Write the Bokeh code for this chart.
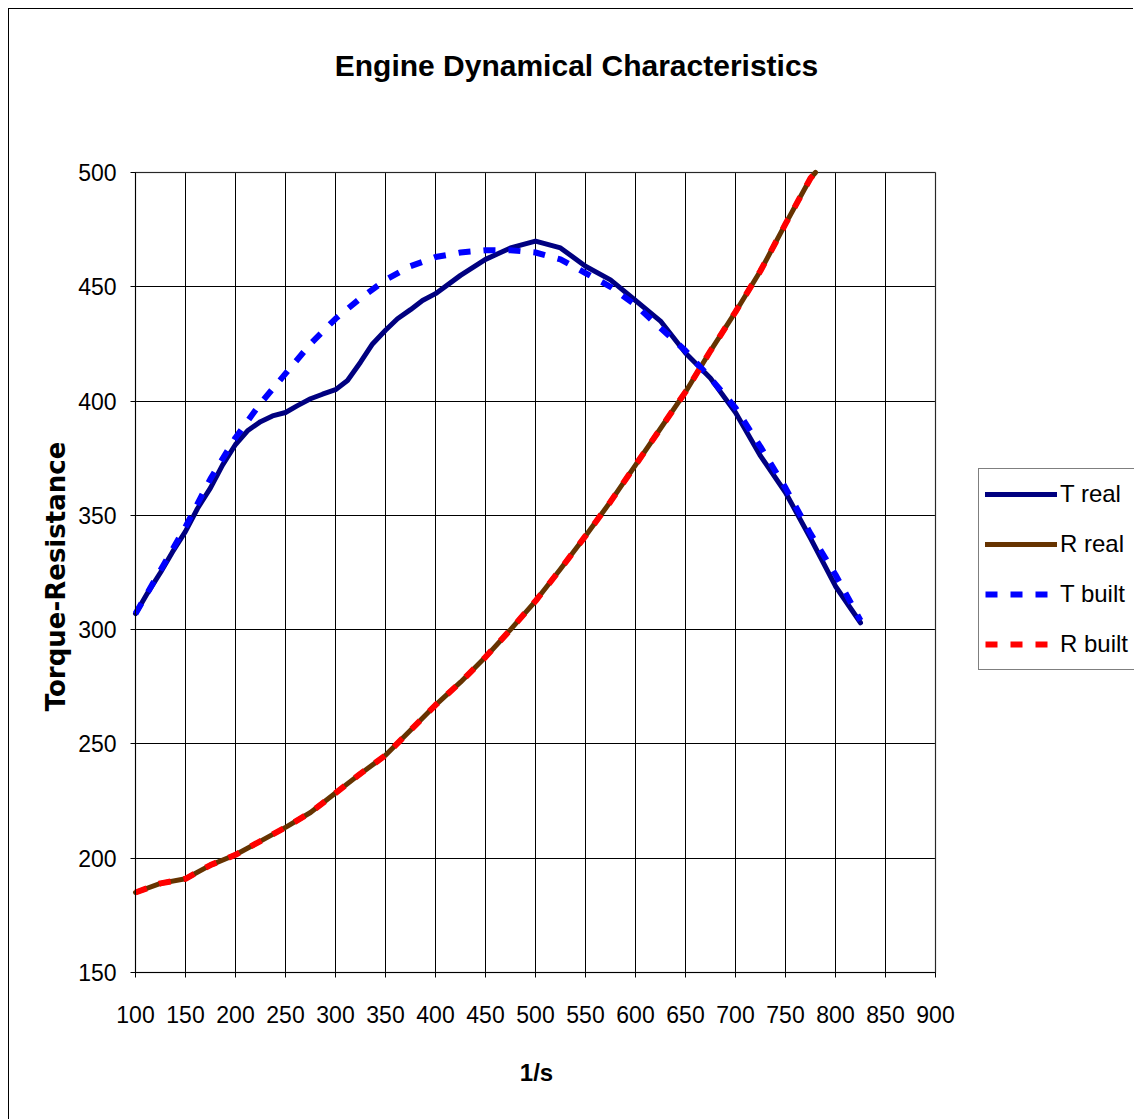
import math
from bokeh.plotting import figure
from bokeh.models import Legend, LegendItem, FixedTicker, Range1d, Label, BoxAnnotation
from bokeh.embed import file_html
from bokeh.resources import INLINE

# ---- data ----
t_real_x = [100, 112, 125, 137, 150, 162, 175, 187, 200, 212, 225, 237, 250, 262, 275, 287,
            300, 312, 325, 337, 350, 362, 375, 387, 400, 425, 450, 475, 500, 525, 550, 575,
            600, 625, 650, 675, 700, 725, 750, 775, 800, 825]
t_real_y = [307, 316, 325, 334, 343, 353, 362, 372, 381, 387, 391, 393.5, 395, 398, 401, 403,
            405, 409, 417, 425, 431, 436, 440, 444, 447, 455, 462, 467, 470, 467, 459, 453,
            444, 435, 421, 410, 395, 376, 360, 340, 319, 303]

r_real_x = [100, 125, 150, 175, 200, 225, 250, 275, 300, 325, 350, 375, 400, 425, 450,
            475, 500, 525, 550, 575, 600, 625, 650, 675, 700, 725, 750, 775, 780]
r_real_y = [185, 189, 191, 197, 201.5, 207.5, 213.5, 220, 228.5, 237, 245, 256, 267, 277, 288,
            300, 312.5, 326.5, 341, 356, 372, 388, 404, 422, 439, 457, 477.5, 497.5, 500]

t_built_x = [100, 125, 150, 175, 200, 225, 250, 275, 300, 325, 350, 375, 400, 425, 450,
             475, 500, 525, 550, 575, 600, 625, 650, 675, 700, 725, 750, 775, 800, 825]
t_built_y = [307, 326, 345, 366, 384, 399, 412, 425, 436, 445, 453, 459, 463, 465, 466,
             466, 465, 462, 456, 450, 442, 432, 422, 410, 397, 380, 362, 342, 324, 304]

r_built_x = [100, 125, 150, 175, 200, 225, 250, 275, 300, 325, 350, 375, 400, 425, 450,
             475, 500, 525, 550, 575, 600, 625, 650, 675, 700, 725, 750, 775, 780]
r_built_y = [185, 189, 191, 197, 201.5, 207.5, 213.5, 220, 228.5, 237, 245, 256, 267, 277, 288,
             300, 312.5, 326.5, 341, 356, 372, 388, 404, 422, 439, 457, 477.5, 497.5, 500]

x_ticks = [100, 150, 200, 250, 300, 350, 400, 450, 500, 550, 600, 650, 700, 750, 800, 850, 900]
y_ticks = [150, 200, 250, 300, 350, 400, 450, 500]
x_min, x_max = 100, 900
y_min, y_max = 150, 500

title_text = "Engine Dynamical Characteristics"
x_label = "1/s"
y_label = "Torque-Resistance"
series_names = ["T real", "R real", "T built", "R built"]

FONT = "Liberation Sans"

# The frame spans the whole canvas so that title, axis titles and the legend
# (all outside the plot area in the reference) are not clipped; the axes sit at
# fixed locations and axes/grids are bounded to the data area (1 px per x unit,
# 800 px for 350 y units).
p = figure(width=1125, height=1111, title=None,
           x_range=Range1d(-26, 1099), y_range=Range1d(85.25, 571.3125),
           output_backend="svg", toolbar_location=None, min_border=0)
p.styles = {"margin-left": "8px", "margin-top": "8px",
            "border-left": "1px solid black", "border-top": "1px solid black"}
p.background_fill_color = "white"
p.border_fill_color = "white"
p.outline_line_color = None

p.xaxis.fixed_location = y_min
p.yaxis.fixed_location = x_min
p.xaxis.ticker = FixedTicker(ticks=x_ticks)
p.yaxis.ticker = FixedTicker(ticks=y_ticks)
p.xaxis.bounds = (x_min, x_max)
p.yaxis.bounds = (y_min, y_max)
p.xgrid.ticker = FixedTicker(ticks=x_ticks)
p.ygrid.ticker = FixedTicker(ticks=y_ticks)
p.xgrid.bounds = (x_min, x_max)
p.ygrid.bounds = (y_min, y_max)
p.xgrid.cross_bounds = (y_min, y_max)
p.ygrid.cross_bounds = (x_min, x_max)
for g in (p.xgrid, p.ygrid):
    g.grid_line_color = "black"
    g.grid_line_width = 1

plot_area = BoxAnnotation(left=x_min, right=x_max, bottom=y_min, top=y_max,
                          fill_alpha=0, line_color="#808080", line_width=2, level="underlay")
p.add_layout(plot_area)

for ax in (p.xaxis, p.yaxis):
    ax.axis_line_color = "black"
    ax.major_tick_line_color = "black"
    ax.major_tick_out = 5
    ax.major_tick_in = 0
    ax.minor_tick_line_color = None
    ax.major_label_text_font = FONT
    ax.major_label_text_font_size = "23px"
    ax.major_label_text_color = "black"
p.xaxis.major_label_standoff = 28
p.yaxis.major_label_standoff = 14

r1 = p.line(t_real_x, t_real_y, line_color="#000080", line_width=5, line_join="round", line_cap="round")
r2 = p.line(r_real_x, r_real_y, line_color="#663300", line_width=5, line_join="round", line_cap="round")
r3 = p.line(t_built_x, t_built_y, line_color="#0000FF", line_width=6, line_dash="12 13")
r4 = p.line(r_built_x, r_built_y, line_color="#FF0000", line_width=6, line_dash="12 13")

legend = Legend(items=[LegendItem(label=series_names[0], renderers=[r1]),
                       LegendItem(label=series_names[1], renderers=[r2]),
                       LegendItem(label=series_names[2], renderers=[r3]),
                       LegendItem(label=series_names[3], renderers=[r4])],
                location=(969, 450))
legend.border_line_color = "black"
legend.border_line_width = 1
legend.background_fill_color = "white"
legend.background_fill_alpha = 1
legend.label_text_font = FONT
legend.label_text_font_size = "24px"
legend.label_text_color = "black"
legend.glyph_width = 72
legend.glyph_height = 38
legend.label_height = 38
legend.spacing = 12
legend.padding = 6
legend.margin = 0
legend.label_standoff = 3
p.add_layout(legend)

title = Label(x=567, y=1055, x_units="screen", y_units="screen", text=title_text,
              text_align="center", text_baseline="middle",
              text_font=FONT, text_font_style="bold", text_font_size="30px",
              text_color="black")
p.add_layout(title)

xlab = Label(x=527, y=48, x_units="screen", y_units="screen", text=x_label,
             text_align="center", text_baseline="middle",
             text_font=FONT, text_font_style="bold", text_font_size="24px",
             text_color="black")
p.add_layout(xlab)

ylab = Label(x=46, y=544, x_units="screen", y_units="screen", text=y_label,
             angle=math.pi / 2, text_align="center", text_baseline="middle",
             text_font="DejaVu Sans", text_font_style="bold", text_font_size="26px",
             text_color="black")
p.add_layout(ylab)

open("out.html", "w").write(file_html(p, INLINE))
